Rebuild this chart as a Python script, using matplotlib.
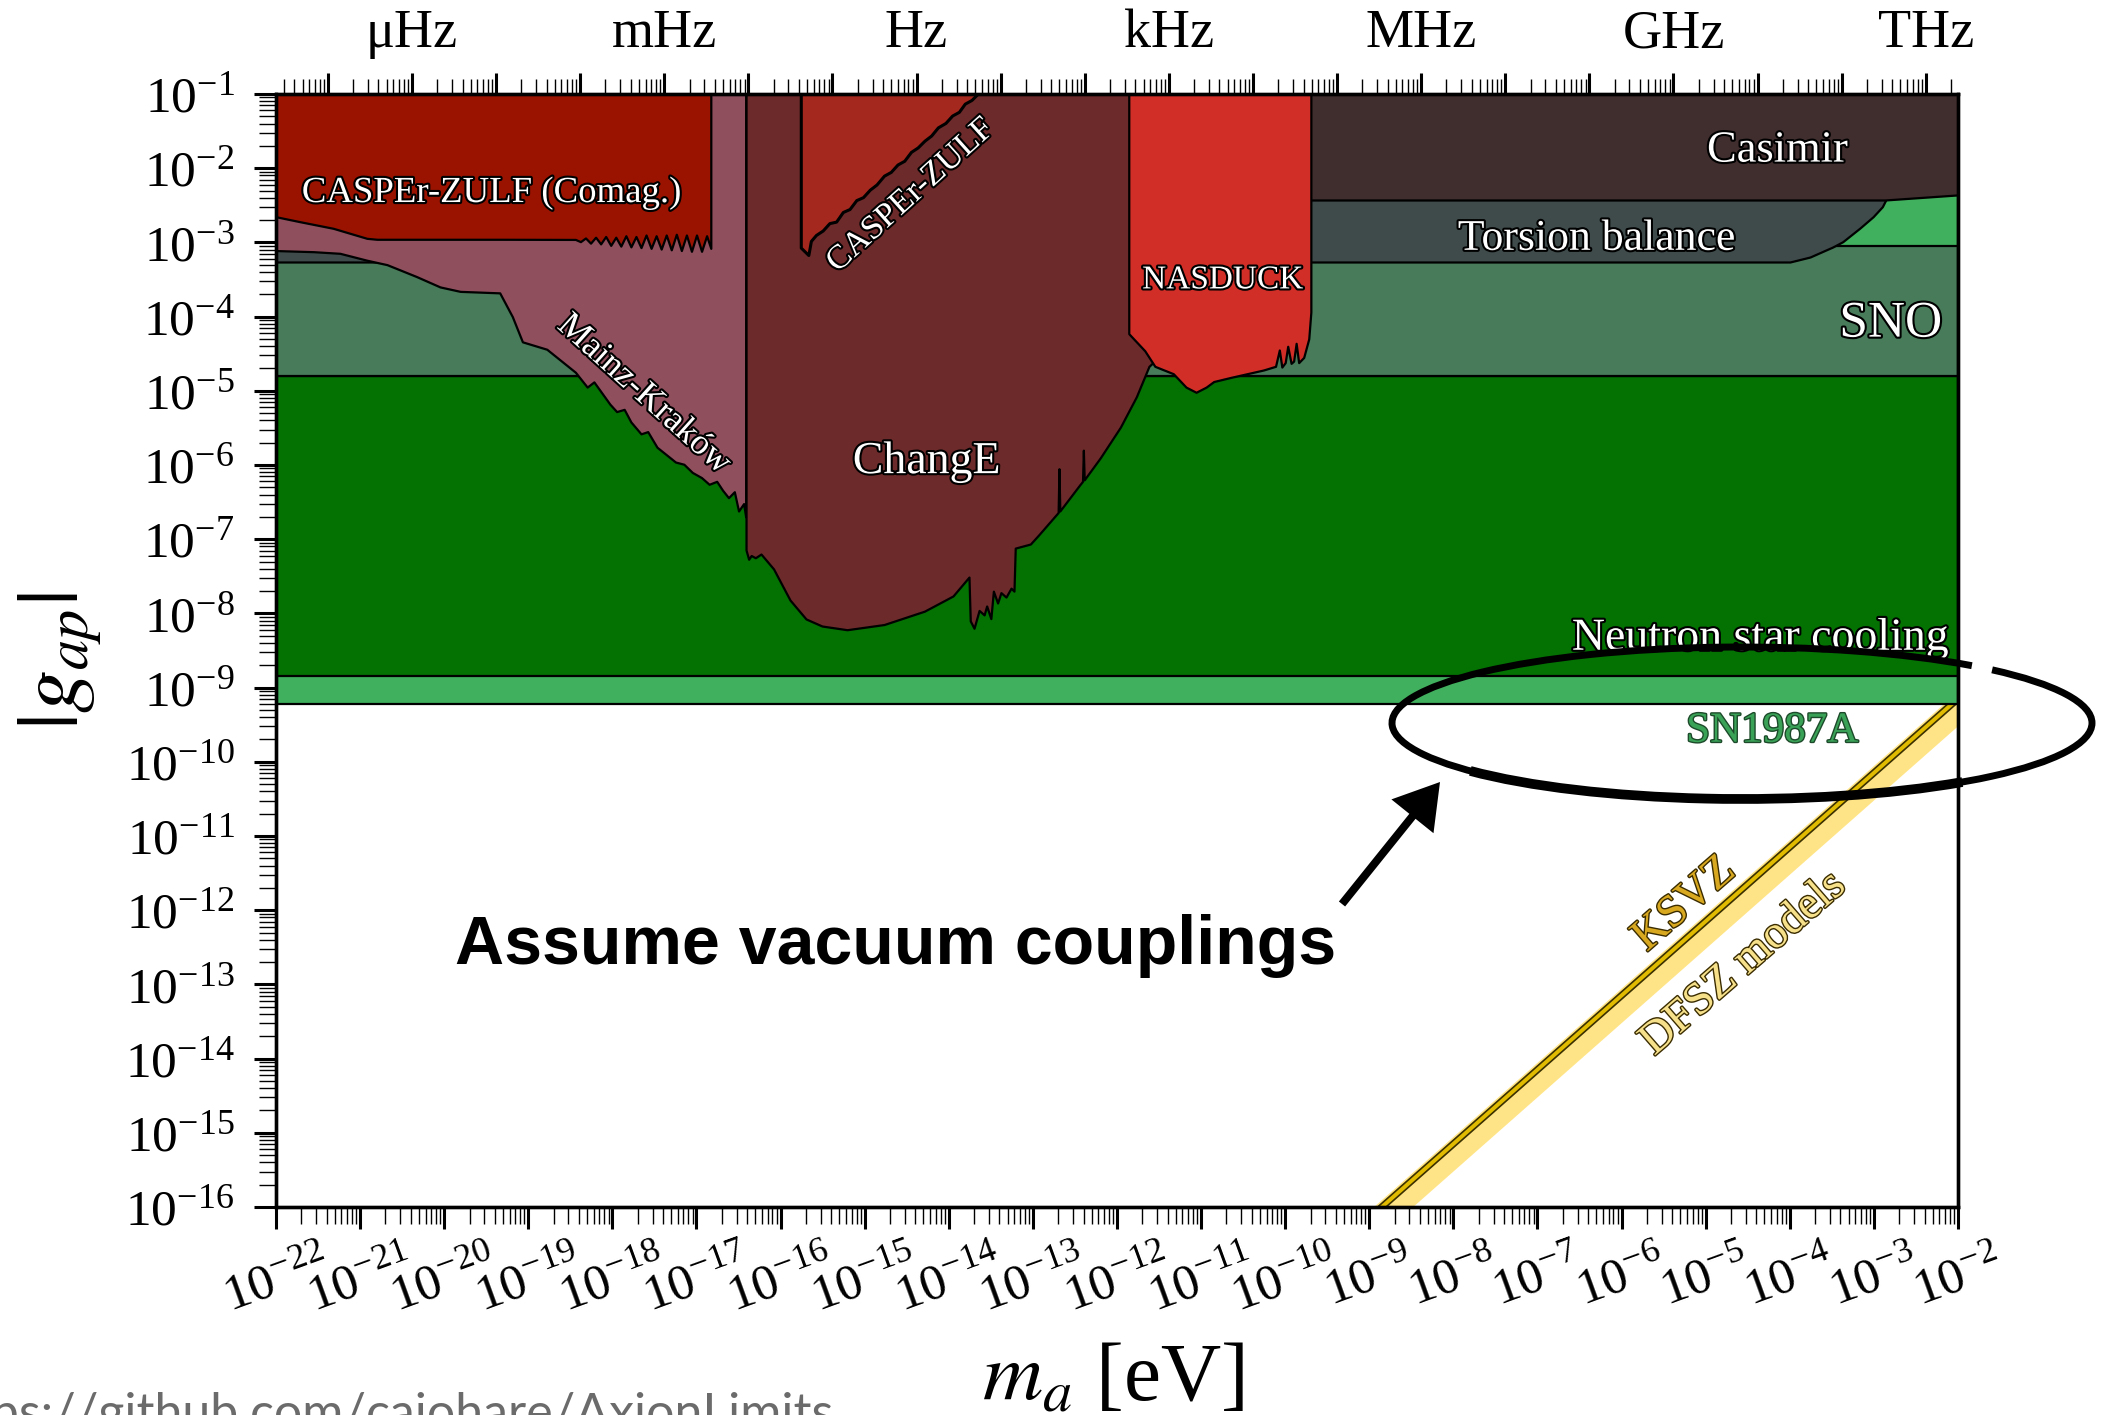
import numpy as np
import matplotlib
matplotlib.use("Agg")
import matplotlib.pyplot as plt
import matplotlib.ticker as mticker
import matplotlib.patheffects as pe
from matplotlib.patches import Arc, FancyArrow

plt.rcParams.update({
    "font.family": "serif",
    "font.serif": ["Liberation Serif", "DejaVu Serif"],
    "mathtext.fontset": "stix",
    "axes.linewidth": 2.4,
})

W, H = 2110, 1415

# ---- limit boundaries: log10(m_a / eV) vs log10(|g_ap|) ----
SN_m = [-22.0, -2.0]
SN_g = [-9.218, -9.218]

NS_m = [-22.0, -2.0]
NS_lo = [-8.837, -8.837]
NS_hi = [-4.794, -4.794]

SNO_m = [-22.0, -2.0]
SNO_lo = [-4.794, -4.794]
SNO_hi = [-3.049, -3.049]

TB_m = [-22.0, -3.998, -3.76, -3.49, -3.37, -3.166, -3.01, -2.90, -2.87, -2.80, -2.70]
TB_g = [-3.264, -3.264, -3.197, -3.062, -2.99, -2.806, -2.654, -2.519, -2.452, -2.30, -2.00]

CAS_m = [-12.0, -2.87, -2.0]
CAS_g = [-2.4286, -2.4286, -2.36]

MK_m = [-22.0, -21.556, -21.24, -20.92, -20.68, -20.33, -20.05, -19.81, -19.34, -19.19,
        -19.07, -18.78, -18.44, -18.30, -18.22, -18.03, -17.95, -17.86, -17.78, -17.66,
        -17.58, -17.47, -17.36, -17.25, -17.15, -17.05, -16.94, -16.85, -16.76, -16.69,
        -16.62, -16.55, -16.50, -16.44, -16.415]
MK_g = [-3.11, -3.125, -3.147, -3.24, -3.30, -3.46, -3.60, -3.66, -3.68, -4.00,
        -4.34, -4.44, -4.75, -4.95, -4.88, -5.18, -5.28, -5.25, -5.42, -5.58,
        -5.55, -5.76, -5.86, -5.96, -5.99, -6.10, -6.17, -6.26, -6.22, -6.34,
        -6.44, -6.36, -6.62, -6.52, -6.70]

COMAG_m = [-22.0, -21.72, -21.32, -20.92, -20.80, -19.34, -18.44, -18.38, -18.32, -18.26,
           -18.20, -18.14, -18.08, -18.02, -17.96, -17.90, -17.84, -17.78, -17.72, -17.66,
           -17.60, -17.54, -17.48, -17.42, -17.36, -17.30, -17.24, -17.18, -17.12, -17.06,
           -17.00, -16.94, -16.88, -16.83]
COMAG_g = [-2.654, -2.72, -2.81, -2.945, -2.958, -2.958, -2.96, -2.99, -2.94, -3.01,
           -2.93, -3.02, -2.92, -3.04, -2.93, -3.05, -2.91, -3.06, -2.92, -3.07,
           -2.90, -3.08, -2.91, -3.09, -2.90, -3.10, -2.89, -3.11, -2.90, -3.12,
           -2.90, -3.12, -2.91, -3.08]

CHG_m = [-16.411, -16.38, -16.35, -16.30, -16.233, -16.084, -15.888, -15.698, -15.508, -15.21,
         -14.77, -14.29, -13.95, -13.76, -13.745, -13.70, -13.64, -13.58, -13.55, -13.50,
         -13.47, -13.42, -13.38, -13.32, -13.26, -13.225, -13.21, -13.03, -12.93, -12.70,
         -12.69, -12.68, -12.445, -12.41, -12.40, -12.39, -12.20, -11.96, -11.77, -11.62,
         -11.52, -11.30, -11.10, -10.95]
CHG_g = [-7.146, -7.27, -7.22, -7.25, -7.20, -7.40, -7.82, -8.075, -8.17, -8.22,
         -8.15, -7.97, -7.765, -7.51, -8.10, -8.20, -7.96, -8.02, -7.90, -8.07,
         -7.70, -7.86, -7.72, -7.78, -7.66, -7.70, -7.12, -7.065, -6.94, -6.64,
         -6.05, -6.62, -6.27, -6.22, -5.80, -6.20, -5.905, -5.49, -5.08, -4.67,
         -4.565, -3.90, -2.60, -0.90]

ZULF_m = [-15.76, -15.67, -15.64, -15.58, -15.50, -15.42, -15.34, -15.26, -15.18, -15.10,
          -15.02, -14.94, -14.86, -14.77, -14.69, -14.61, -14.53, -14.45, -14.37, -14.29,
          -14.21, -14.13, -14.04, -13.96, -13.88, -13.81, -13.73, -13.66, -13.55]
ZULF_g = [-3.07, -3.17, -2.98, -2.90, -2.84, -2.74, -2.72, -2.59, -2.55, -2.43,
          -2.39, -2.29, -2.22, -2.10, -2.05, -1.95, -1.90, -1.78, -1.72, -1.63,
          -1.56, -1.45, -1.39, -1.29, -1.24, -1.13, -1.08, -1.00, -0.85]

NAS_m = [-11.86, -11.67, -11.55, -11.33, -11.18, -11.06, -10.94, -10.85, -10.65, -10.455,
         -10.26, -10.115, -10.07, -10.04, -10.00, -9.97, -9.93, -9.90, -9.87, -9.84,
         -9.78, -9.72, -9.695]
NAS_g = [-4.23, -4.46, -4.67, -4.77, -4.95, -5.02, -4.95, -4.875, -4.82, -4.77,
         -4.72, -4.67, -4.45, -4.68, -4.62, -4.40, -4.63, -4.60, -4.36, -4.62,
         -4.55, -4.30, -3.94]

# QCD axion band (KSVZ line and DFSZ range), endpoints
QCD_m = [-10.0, -2.0]
KSVZ_g = [-17.149, -9.149]
DFSZ_hi = [-17.044, -9.044]
DFSZ_lo = [-17.51, -9.51]

# upper frequency axis
HZ_PER_EV = 241.8e12
FREQ_TICKS = [1e-6, 1e-3, 1e0, 1e3, 1e6, 1e9, 1e12]
FREQ_NAMES = ["μHz", "mHz", "Hz", "kHz", "MHz", "GHz", "THz"]

C_SN = "#41b05e"
C_NS = "#037203"
C_SNO = "#477b59"
C_TB = "#3f4b4b"
C_CAS = "#402d2e"
C_MK = "#8f4f5d"
C_COMAG = "#9a1300"
C_CHG = "#6d2a2a"
C_ZULF = "#a5281f"
C_NAS = "#d12e27"

fig = plt.figure(figsize=(W / 100, H / 100), dpi=100)
ax = fig.add_axes([276 / W, 1 - 1207 / H, (1958 - 276) / W, (1207 - 94) / H])
ax.set_xscale("log")
ax.set_yscale("log")
ax.set_xlim(1e-22, 1e-2)
ax.set_ylim(1e-16, 1e-1)


def ex(v):
    return 10.0 ** np.asarray(v, float)


def fill(logm, lo, hi, color, z, lw=1.6):
    ax.fill_between(ex(logm), ex(lo), ex(hi), facecolor=color, edgecolor="k",
                    lw=lw, zorder=z)


TOP = 0.0
fill(SN_m, SN_g, [TOP, TOP], C_SN, 2)
fill(NS_m, NS_lo, NS_hi, C_NS, 3)
fill(SNO_m, SNO_lo, SNO_hi, C_SNO, 4)
fill(TB_m, TB_g, [TOP] * len(TB_m), C_TB, 5)
fill(CAS_m, CAS_g, [TOP] * len(CAS_m), C_CAS, 6)
fill(MK_m, MK_g, [TOP] * len(MK_m), C_MK, 7)
fill(COMAG_m, COMAG_g, [TOP] * len(COMAG_m), C_COMAG, 8)
fill(CHG_m, CHG_g, [TOP] * len(CHG_m), C_CHG, 9)
fill(ZULF_m, ZULF_g, [TOP] * len(ZULF_m), C_ZULF, 10, lw=2.2)
fill(NAS_m, NAS_g, [TOP] * len(NAS_m), C_NAS, 11)

# QCD axion models
ax.fill_between(ex(QCD_m), ex(DFSZ_lo), ex(DFSZ_hi), color="#ffe27a", alpha=0.9,
                lw=0, zorder=1)
ax.plot(ex(QCD_m), ex(KSVZ_g), color="#e0bb00", lw=2.8, zorder=1.5,
        path_effects=[pe.Stroke(linewidth=5.2, foreground="#3a3000"), pe.Normal()])


def label(logm, logg, s, size, rot=0, color="w", stroke="k", sw=3.0, va="baseline", ha="center"):
    ax.text(10.0 ** logm, 10.0 ** logg, s, fontsize=size, rotation=rot, color=color,
            ha=ha, va=va, rotation_mode="anchor", zorder=20,
            path_effects=[pe.withStroke(linewidth=sw, foreground=stroke)])


label(-19.44, -2.456, "CASPEr-ZULF (Comag.)", 26.5)
label(-14.45, -2.37, "CASPEr-ZULF", 24.5, rot=42, va="center")
label(-17.63, -5.05, "Mainz-Kraków", 26, rot=-42, va="center")
label(-14.26, -6.11, "ChangE", 33)
label(-10.74, -3.62, "NASDUCK", 24)
label(-4.145, -1.911, "Casimir", 32)
label(-6.30, -3.10, "Torsion balance", 31.5)
label(-2.80, -4.27, "SNO", 37)
label(-2.107, -8.49, "Neutron star cooling", 33, ha="right")
label(-4.21, -9.73, "SN1987A", 31, color="#3aa257", stroke="#1d4a2a", sw=2.0)
label(-5.25, -11.92, "KSVZ", 33, rot=41, va="center", color="#d8a820", stroke="#3a2c00", sw=2.0)
label(-4.55, -12.72, "DFSZ models", 33, rot=41, va="center", color="#f6e08a", stroke="#3a2c00", sw=2.0)

# axis ticks
ax.xaxis.set_major_locator(mticker.LogLocator(base=10, numticks=50))
ax.xaxis.set_minor_locator(mticker.LogLocator(base=10, subs=np.arange(2, 10), numticks=400))
ax.yaxis.set_major_locator(mticker.LogLocator(base=10, numticks=50))
ax.yaxis.set_minor_locator(mticker.LogLocator(base=10, subs=np.arange(2, 10), numticks=400))
ax.xaxis.set_minor_formatter(mticker.NullFormatter())
ax.yaxis.set_minor_formatter(mticker.NullFormatter())
ax.tick_params(which="major", direction="out", width=2.2, length=16, labelsize=37)
ax.tick_params(which="minor", direction="out", width=1.0, length=12)
ax.tick_params(axis="y", which="major", pad=14)
ax.tick_params(axis="x", which="major", pad=8, labelrotation=20)
ax.tick_params(top=False, right=False, which="both")

ax2 = ax.twiny()
ax2.set_xscale("log")
ax2.set_xlim(1e-22 * HZ_PER_EV, 1e-2 * HZ_PER_EV)
ax2.xaxis.set_major_locator(mticker.LogLocator(base=10, numticks=50))
ax2.xaxis.set_minor_locator(mticker.LogLocator(base=10, subs=np.arange(2, 10), numticks=400))
ax2.xaxis.set_minor_formatter(mticker.NullFormatter())
freq_names = {int(round(np.log10(f))): n for f, n in zip(FREQ_TICKS, FREQ_NAMES)}
ax2.xaxis.set_major_formatter(mticker.FuncFormatter(
    lambda v, pos: freq_names.get(int(round(np.log10(v))), "")))
ax2.tick_params(which="major", direction="out", width=2.2, length=15, labelsize=39, pad=10)
ax2.tick_params(which="minor", direction="out", width=1.0, length=11)
for a in (ax, ax2):
    for sp in a.spines.values():
        sp.set_linewidth(2.4)
        sp.set_zorder(30)

fig.text(60 / W, 1 - 661 / H, r"$|g_{ap}|$", rotation=90, ha="center", va="center", fontsize=62)
fig.text(1113 / W, 1 - 1400 / H, r"$m_a$ [eV]", ha="center", va="baseline", fontsize=60)

fig.text(895.5 / W, 1 - 963.5 / H, "Assume vacuum couplings", ha="center", va="baseline",
         fontsize=49, fontweight="bold", family="Liberation Sans")
fig.text(834 / W, 1 - 1428 / H, "https://github.com/cajohare/AxionLimits", ha="right",
         va="baseline", fontsize=36, color="#6b6b6b", family="Lato")

# hand-drawn ellipse and arrow, in figure pixels
ov = fig.add_axes([0, 0, 1, 1])
ov.set_xlim(0, W)
ov.set_ylim(H, 0)
ov.axis("off")
ov.set_zorder(40)
ov.add_patch(Arc((1742, 723), 700, 152, theta1=-12, theta2=346, lw=5.0, color="k"))
ov.add_patch(Arc((1742, 723), 700, 152, theta1=15, theta2=170, lw=7.0, color="k"))
ov.add_patch(FancyArrow(1342, 904, 98, -122, width=8, head_width=54, head_length=44,
                        length_includes_head=True, color="k", lw=0))

fig.savefig("out.png", dpi=100)
